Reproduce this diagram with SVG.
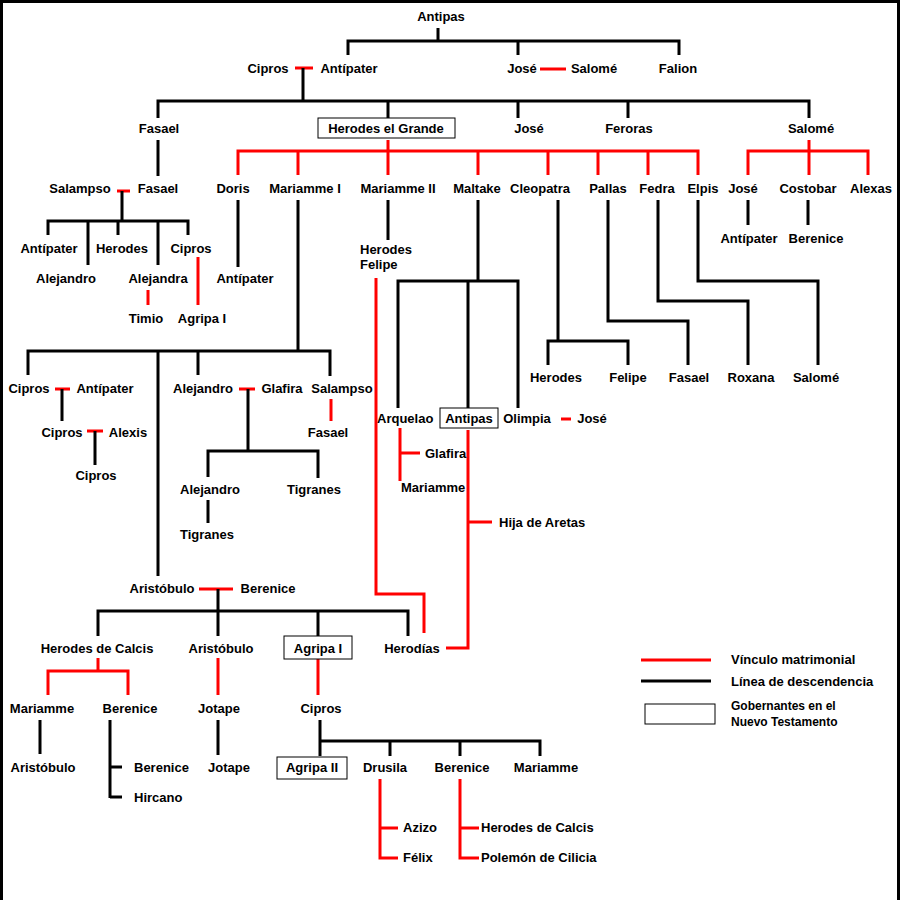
<svg xmlns="http://www.w3.org/2000/svg" width="900" height="900" viewBox="0 0 900 900">
<style>
text{font-family:"Liberation Sans",Arial,sans-serif;font-weight:bold;font-size:13px;fill:#000;text-anchor:middle}
.l{text-anchor:start}
.b{stroke:#000;stroke-width:3;fill:none}
.r{stroke:#f00;stroke-width:3;fill:none}
.box{fill:#fff;stroke:#000;stroke-width:1}
</style>
<rect x="0" y="0" width="900" height="900" fill="#fff"/>
<path d="M1.5 900V1.5H898.5V900" fill="none" stroke="#000" stroke-width="3"/>
<g id="connectors">
<path class="b" d="M438 28V41M348 55V41H679V55M518 41V55"/>
<path class="r" d="M295 68H313M540 69H566"/>
<path class="b" d="M303 68V101M158 118V101H809V118M388 101V118M518 101V118M628 101V118"/>
<path class="r" d="M388 140V175M238 175V151H698V175M298 151V175M478 151V175M548 151V175M598 151V175M648 151V175"/>
<path class="r" d="M809 140V175M748 175V151H868V175"/>
<path class="b" d="M158 140V176"/>
<path class="r" d="M117 191H130"/>
<path class="b" d="M122 191V221M48 235V221H188V235M88 221V265M118 221V235M158 221V265"/>
<path class="r" d="M198 257V305M148 290V305"/>
<path class="b" d="M238 200V267M298 200V351M388 200V240"/>
<path class="r" d="M376 278V594H424V633"/>
<path class="b" d="M478 200V281M398 408V281H518V408M468 281V408"/>
<path class="b" d="M558 200V341M548 365V341H628V365"/>
<path class="b" d="M608 200V321H688V365M658 200V301H748V365M698 200V281H818V365"/>
<path class="b" d="M748 200V225M808 200V225"/>
<path class="b" d="M28 375V351H330V376M198 351V375M158 351V576"/>
<path class="r" d="M55 389H70M239 389H255M87 431H103"/>
<path class="b" d="M62 389V421M95 431V465M248 389V451M208 477V451H318V478M208 500V523"/>
<path class="r" d="M331 399V421"/>
<path class="r" d="M199 589H233"/>
<path class="b" d="M218 589V611M98 636V611H408V636M218 611V636M318 611V636"/>
<path class="r" d="M98 658V671M48 695V671H128V695M218 658V695M318 659V695"/>
<path class="b" d="M40 720V754M110 720V798M110 767H122M110 797H122M218 720V755"/>
<path class="b" d="M320 720V756M320 741H540V756M390 741V756M460 741V756"/>
<path class="r" d="M380 779V858H398M380 828H398M460 779V858H479M460 828H479"/>
<path class="r" d="M561 419H571M400 428V481M400 453H420M468 430V648H446M468 522H492"/>
</g>
<g id="n-antipas"><text x="441" y="21">Antipas</text></g>
<g id="n-cipros0"><text x="268" y="73">Cipros</text></g>
<g id="n-antipater0"><text x="349" y="73">Antípater</text></g>
<g id="n-jose0"><text x="522" y="73">José</text></g>
<g id="n-salome0"><text x="594" y="73">Salomé</text></g>
<g id="n-falion"><text x="678" y="73">Falion</text></g>
<g id="n-fasael1"><text x="159" y="133">Fasael</text></g>
<g id="n-herodes"><rect class="box" x="318" y="118" width="137" height="20"/><text x="386" y="133">Herodes el Grande</text></g>
<g id="n-jose1"><text x="529" y="133">José</text></g>
<g id="n-feroras"><text x="629" y="133">Feroras</text></g>
<g id="n-salome1"><text x="811" y="133">Salomé</text></g>
<g id="row188">
<text x="80" y="193">Salampso</text><text x="158" y="193">Fasael</text>
<text x="233" y="193">Doris</text><text x="305" y="193">Mariamme I</text><text x="398" y="193">Mariamme II</text>
<text x="477" y="193">Maltake</text><text x="540" y="193">Cleopatra</text><text x="608" y="193">Pallas</text>
<text x="657" y="193">Fedra</text><text x="703" y="193">Elpis</text><text x="743" y="193">José</text>
<text x="808" y="193">Costobar</text><text x="871" y="193">Alexas</text>
</g>
<g id="row248">
<text x="49" y="253">Antípater</text><text x="122" y="253">Herodes</text><text x="191" y="253">Cipros</text>
<text x="66" y="283">Alejandro</text><text x="158" y="283">Alejandra</text><text x="245" y="283">Antípater</text>
<text x="146" y="323">Timio</text><text x="202" y="323">Agripa I</text>
<text class="l" x="360" y="254">Herodes</text><text class="l" x="360" y="269">Felipe</text>
<text x="749" y="243">Antípater</text><text x="816" y="243">Berenice</text>
</g>
<g id="row377">
<text x="556" y="382">Herodes</text><text x="628" y="382">Felipe</text><text x="689" y="382">Fasael</text>
<text x="751" y="382">Roxana</text><text x="816" y="382">Salomé</text>
</g>
<g id="maltake-children">
<text class="l" x="377" y="423">Arquelao</text>
<rect class="box" x="440" y="408" width="58" height="20"/><text x="469" y="423">Antipas</text>
<text x="527" y="423">Olimpia</text><text x="592" y="423">José</text>
<text class="l" x="425" y="458">Glafira</text><text class="l" x="401" y="492">Mariamme</text>
<text class="l" x="499" y="527">Hija de Aretas</text>
</g>
<g id="mariamme-children">
<text x="29" y="393">Cipros</text><text x="105" y="393">Antípater</text>
<text x="203" y="393">Alejandro</text><text x="282" y="393">Glafira</text><text x="342" y="393">Salampso</text>
<text x="62" y="437">Cipros</text><text x="128" y="437">Alexis</text><text x="96" y="480">Cipros</text>
<text x="328" y="437">Fasael</text>
<text x="210" y="494">Alejandro</text><text x="314" y="494">Tigranes</text><text x="207" y="539">Tigranes</text>
</g>
<g id="aristobulo">
<text x="162" y="593">Aristóbulo</text><text x="268" y="593">Berenice</text>
<text x="97" y="653">Herodes de Calcis</text><text x="221" y="653">Aristóbulo</text>
<rect class="box" x="284" y="636" width="68" height="23"/><text x="318" y="653">Agripa I</text>
<text x="412" y="653">Herodías</text>
<text x="42" y="713">Mariamme</text><text x="130" y="713">Berenice</text><text x="219" y="713">Jotape</text><text x="321" y="713">Cipros</text>
<text x="43" y="772">Aristóbulo</text><text class="l" x="134" y="772">Berenice</text><text class="l" x="134" y="802">Hircano</text>
<text x="229" y="772">Jotape</text>
<rect class="box" x="277" y="757" width="70" height="22"/><text x="312" y="772">Agripa II</text>
<text x="385" y="772">Drusila</text><text x="462" y="772">Berenice</text><text x="546" y="772">Mariamme</text>
<text class="l" x="403" y="832">Azizo</text><text class="l" x="403" y="862">Félix</text>
<text class="l" x="481" y="832">Herodes de Calcis</text><text class="l" x="481" y="862">Polemón de Cilicia</text>
</g>
<g id="legend">
<path class="r" d="M641 660H711"/><path class="b" d="M641 681H711"/>
<rect class="box" x="645" y="704" width="70" height="20"/>
<text class="l" x="731" y="664">Vínculo matrimonial</text>
<text class="l" x="731" y="686">Línea de descendencia</text>
<text class="l" x="731" y="710" style="font-size:12px">Gobernantes en el</text>
<text class="l" x="731" y="726" style="font-size:12px">Nuevo Testamento</text>
</g>
</svg>
